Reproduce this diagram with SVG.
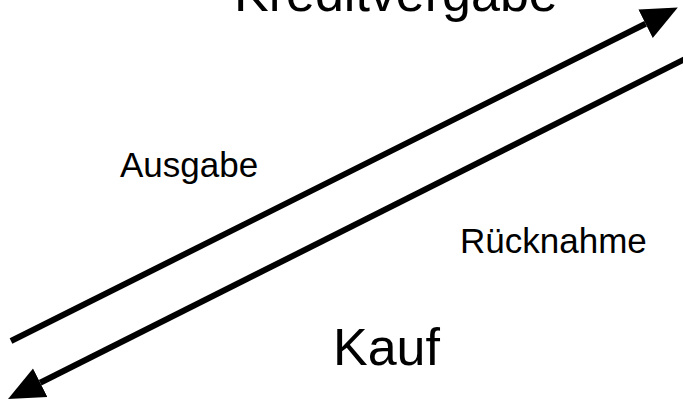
<svg xmlns="http://www.w3.org/2000/svg" width="683" height="402" viewBox="0 0 683 402">
<style>
.t{font-family:"Liberation Sans",Arial,sans-serif;fill:#000}
.big{font-size:52px}
.small{font-size:35px}
.ln{stroke:#000;stroke-width:6;fill:none}
</style>
<defs>
<marker id="ah" markerUnits="userSpaceOnUse" viewBox="0 -20 40 40" markerWidth="40" markerHeight="40" refX="0" refY="0" orient="auto">
<path d="M0,-16 L36,0 L0,16 z" fill="#000"/>
</marker>
</defs>
<rect width="683" height="402" fill="#fff"/>
<g id="connectors">
<line class="ln" x1="11" y1="341" x2="645.6" y2="23.7" marker-end="url(#ah)"/>
<line class="ln" x1="690" y1="56.5" x2="40.2" y2="382.8" marker-end="url(#ah)"/>
</g>
<g id="kreditvergabe"><text class="t big" x="234" y="11">Kreditvergabe</text></g>
<g id="kauf"><text class="t big" x="333" y="365">Kauf</text></g>
<g id="ausgabe"><text class="t small" x="120" y="177">Ausgabe</text></g>
<g id="ruecknahme"><text class="t small" x="460" y="253">Rücknahme</text></g>
</svg>
